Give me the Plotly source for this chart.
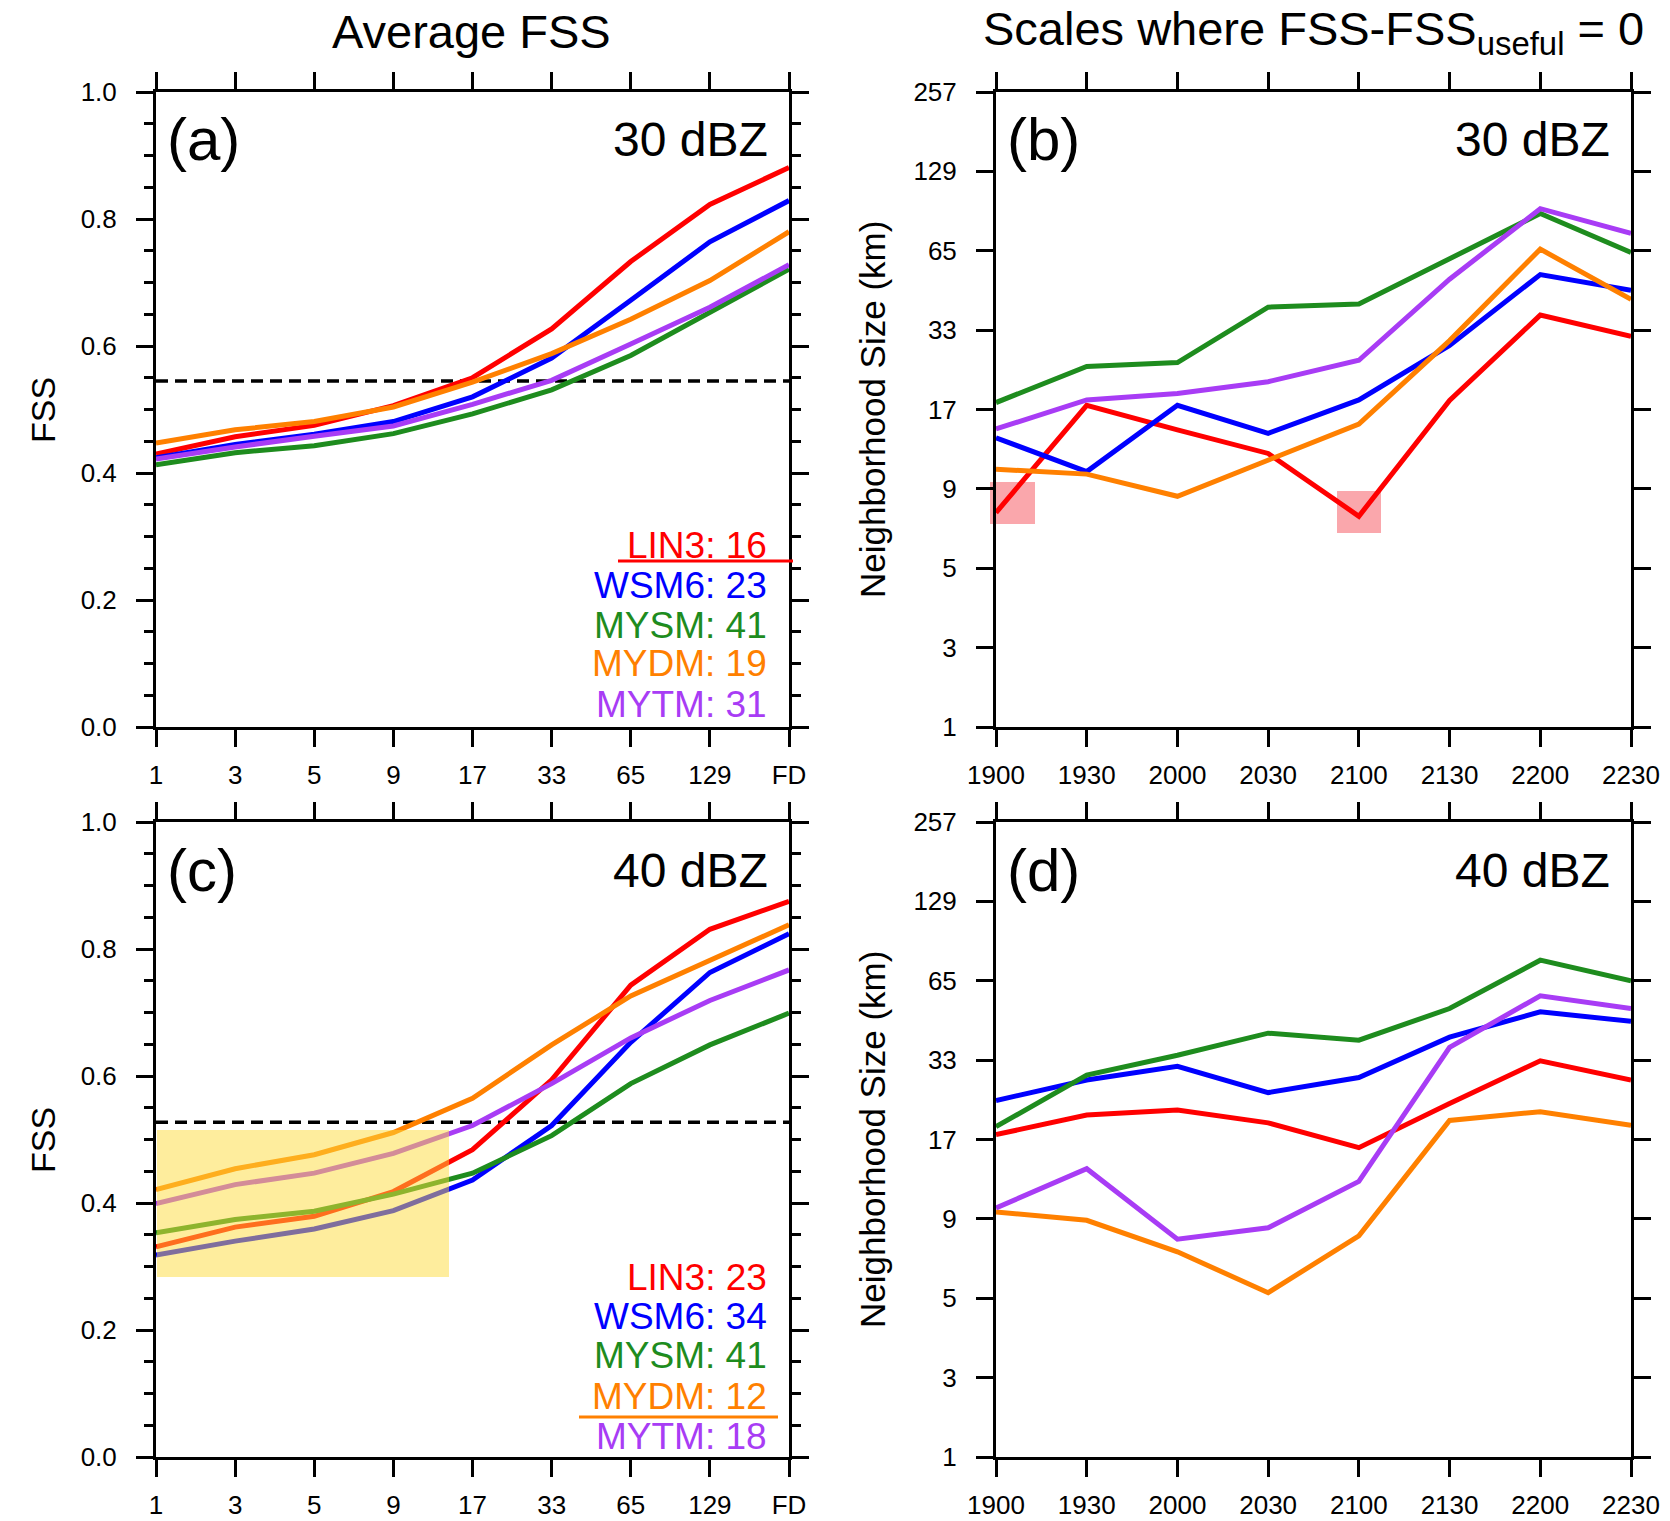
import plotly.graph_objects as go

W, H = 1670, 1521

# ---------------- data ----------------
scales = ["1", "3", "5", "9", "17", "33", "65", "129", "FD"]
times = ["1900", "1930", "2000", "2030", "2100", "2130", "2200", "2230"]
size_tick_labels = ["1", "3", "5", "9", "17", "33", "65", "129", "257"]
size_tick_vals = [1, 2, 4, 8, 16, 32, 64, 128, 256]   # (size - 1) positions

schemes = ["LIN3", "WSM6", "MYSM", "MYDM", "MYTM"]
scheme_colors = ["#FF0000", "#0000FF", "#1E8C1E", "#FF8000", "#A83CF5"]

# (a) average FSS, 30 dBZ
fss30_lin3 = [0.430, 0.457, 0.475, 0.506, 0.550, 0.627, 0.733, 0.823, 0.881]
fss30_wsm6 = [0.424, 0.445, 0.461, 0.481, 0.520, 0.581, 0.672, 0.764, 0.829]
fss30_mysm = [0.413, 0.432, 0.443, 0.462, 0.493, 0.531, 0.585, 0.653, 0.721]
fss30_mydm = [0.447, 0.468, 0.481, 0.504, 0.543, 0.588, 0.642, 0.703, 0.780]
fss30_mytm = [0.422, 0.441, 0.458, 0.474, 0.508, 0.546, 0.603, 0.661, 0.728]
fss30_useful = 0.545
legend30 = [16, 23, 41, 19, 31]

# (c) average FSS, 40 dBZ
fss40_lin3 = [0.331, 0.362, 0.379, 0.418, 0.484, 0.594, 0.743, 0.831, 0.875]
fss40_wsm6 = [0.318, 0.340, 0.359, 0.388, 0.436, 0.522, 0.653, 0.763, 0.824]
fss40_mysm = [0.353, 0.374, 0.387, 0.414, 0.447, 0.506, 0.588, 0.649, 0.699]
fss40_mydm = [0.421, 0.454, 0.476, 0.511, 0.565, 0.649, 0.726, 0.782, 0.838]
fss40_mytm = [0.399, 0.429, 0.447, 0.478, 0.522, 0.588, 0.660, 0.719, 0.767]
fss40_useful = 0.527
legend40 = [23, 34, 41, 12, 18]

# (b) neighborhood size (km) where FSS = FSS_useful, 30 dBZ
size30_lin3 = [7.5, 17.6, 14.4, 11.9, 7.3, 18.3, 37.5, 31.3]
size30_wsm6 = [13.5, 10.3, 17.6, 14.0, 18.4, 29.0, 53.0, 46.3]
size30_mysm = [18.0, 24.3, 25.1, 40.1, 41.2, 60.7, 89.6, 64.1]
size30_mydm = [10.5, 10.1, 8.5, 11.3, 15.1, 30.2, 65.9, 42.9]
size30_mytm = [14.5, 18.4, 19.4, 21.4, 25.6, 50.9, 93.4, 75.5]

# (d) neighborhood size (km) where FSS = FSS_useful, 40 dBZ
size40_lin3 = [17.7, 20.8, 21.7, 19.5, 15.9, 22.9, 32.8, 27.9]
size40_wsm6 = [23.5, 27.9, 31.3, 25.1, 28.5, 40.1, 49.8, 45.9]
size40_mysm = [18.9, 29.1, 34.4, 41.5, 39.1, 51.2, 77.6, 65.0]
size40_mydm = [9.5, 8.9, 7.0, 5.2, 7.9, 19.9, 21.4, 19.1]
size40_mytm = [9.8, 13.4, 7.7, 8.4, 12.1, 36.8, 57.1, 51.2]

# ---------------- layout helpers ----------------
FONT = "Liberation Sans"


def px(x):
    return x / W


def py(y):
    return 1 - y / H


panels = {
    "a": dict(x0=156, x1=789, y0=92, y1=727),
    "b": dict(x0=996, x1=1631, y0=92, y1=727),
    "c": dict(x0=156, x1=789, y0=822, y1=1457),
    "d": dict(x0=996, x1=1631, y0=822, y1=1457),
}

fig = go.Figure()

axis_common = dict(
    showline=True, linecolor="black", linewidth=3, mirror="ticks",
    ticks="outside", ticklen=17, tickwidth=3, tickcolor="black",
    showgrid=False, zeroline=False, automargin=False,
    tickfont=dict(family=FONT, size=26, color="black"),
    fixedrange=True,
)

ax_ids = {"a": ("x", "y"), "b": ("x2", "y2"), "c": ("x3", "y3"), "d": ("x4", "y4")}
ax_lay = {"a": ("xaxis", "yaxis"), "b": ("xaxis2", "yaxis2"),
          "c": ("xaxis3", "yaxis3"), "d": ("xaxis4", "yaxis4")}

for key, p in panels.items():
    xa, ya = ax_lay[key]
    xid, yid = ax_ids[key]
    xdom = [px(p["x0"]), px(p["x1"])]
    ydom = [py(p["y1"]), py(p["y0"])]
    if key in ("a", "c"):
        xcfg = dict(axis_common, domain=xdom, anchor=yid, type="category",
                    categoryorder="array", categoryarray=scales,
                    range=[0, len(scales) - 1], ticklabelstandoff=6)
        ycfg = dict(axis_common, domain=ydom, anchor=xid, range=[0, 1],
                    tick0=0, dtick=0.2, tickformat=".1f", ticklabelstandoff=14,
                    minor=dict(dtick=0.05, ticklen=9, tickwidth=2.5,
                               tickcolor="black", ticks="outside"))
    else:
        xcfg = dict(axis_common, domain=xdom, anchor=yid, type="category",
                    categoryorder="array", categoryarray=times,
                    range=[0, len(times) - 1], ticklabelstandoff=6)
        ycfg = dict(axis_common, domain=ydom, anchor=xid, type="log",
                    range=[0, 2.40824], tickmode="array",
                    tickvals=size_tick_vals, ticktext=size_tick_labels,
                    ticklabelstandoff=14)
    fig.update_layout(**{xa: xcfg, ya: ycfg})

# ---------------- traces ----------------
LW = 5
dash_style = dict(color="black", width=3.5, dash="12px,7px")

fss_sets = {
    "a": ([fss30_lin3, fss30_wsm6, fss30_mysm, fss30_mydm, fss30_mytm], fss30_useful),
    "c": ([fss40_lin3, fss40_wsm6, fss40_mysm, fss40_mydm, fss40_mytm], fss40_useful),
}
for key, (series, useful) in fss_sets.items():
    xid, yid = ax_ids[key]
    fig.add_trace(go.Scatter(x=[scales[0], scales[-1]], y=[useful, useful],
                             mode="lines", line=dash_style, xaxis=xid, yaxis=yid,
                             showlegend=False, hoverinfo="skip"))
    for name, col, vals in zip(schemes, scheme_colors, series):
        fig.add_trace(go.Scatter(x=scales, y=vals, mode="lines", name=name,
                                 line=dict(color=col, width=LW),
                                 xaxis=xid, yaxis=yid, showlegend=False))

size_sets = {
    "b": [size30_lin3, size30_wsm6, size30_mysm, size30_mydm, size30_mytm],
    "d": [size40_lin3, size40_wsm6, size40_mysm, size40_mydm, size40_mytm],
}
for key, series in size_sets.items():
    xid, yid = ax_ids[key]
    for name, col, vals in zip(schemes, scheme_colors, series):
        fig.add_trace(go.Scatter(x=times, y=[v - 1 for v in vals], mode="lines",
                                 name=name, line=dict(color=col, width=LW),
                                 xaxis=xid, yaxis=yid, showlegend=False,
                                 customdata=vals,
                                 hovertemplate="%{customdata} km<extra>" + name + "</extra>"))

# ---------------- annotations ----------------
ann = []


def text(x, y, s, size, color="black", xanchor="center", yanchor="middle", angle=0):
    ann.append(dict(x=px(x), y=py(y), xref="paper", yref="paper", text=s,
                    showarrow=False, xanchor=xanchor, yanchor=yanchor,
                    textangle=angle,
                    font=dict(family=FONT, size=size, color=color)))


text(472, 32, "Average FSS", 47)
text(1313, 32, "Scales where FSS-FSS<sub>useful</sub> = 0", 47)

text(43, 410, "FSS", 34, angle=-90)
text(43, 1140, "FSS", 34, angle=-90)
text(872, 410, "Neighborhood Size (km)", 35, angle=-90)
text(872, 1140, "Neighborhood Size (km)", 35, angle=-90)

labels = {"a": "(a)", "b": "(b)", "c": "(c)", "d": "(d)"}
thresholds = {"a": "30 dBZ", "b": "30 dBZ", "c": "40 dBZ", "d": "40 dBZ"}
for key, p in panels.items():
    text(p["x0"] + 9, p["y0"] + 48, labels[key], 60, xanchor="left")
    text(p["x1"] - 19, p["y0"] + 48, thresholds[key], 48, xanchor="right")

leg_a_y = [545, 585, 625, 664, 705]
leg_c_y = [1277, 1316, 1355, 1396, 1436]
for name, col, n, yy in zip(schemes, scheme_colors, legend30, leg_a_y):
    text(769, yy, f"{name}: {n}", 37, color=col, xanchor="right")
for name, col, n, yy in zip(schemes, scheme_colors, legend40, leg_c_y):
    text(769, yy, f"{name}: {n}", 37, color=col, xanchor="right")

# ---------------- shapes ----------------
shapes = [
    # underline of best scheme
    dict(type="line", xref="paper", yref="paper", x0=px(618), x1=px(793),
         y0=py(561), y1=py(561), line=dict(color="#FF0000", width=3)),
    dict(type="line", xref="paper", yref="paper", x0=px(579), x1=px(778),
         y0=py(1417), y1=py(1417), line=dict(color="#FF8000", width=3)),
    # highlighted minima in (b)
    dict(type="rect", xref="paper", yref="paper", x0=px(990), x1=px(1035),
         y0=py(524), y1=py(482), fillcolor="rgba(245,80,90,0.5)",
         line=dict(width=0), layer="below"),
    dict(type="rect", xref="paper", yref="paper", x0=px(1337), x1=px(1381),
         y0=py(533), y1=py(491), fillcolor="rgba(245,80,90,0.5)",
         line=dict(width=0), layer="below"),
    # yellow highlight in (c)
    dict(type="rect", xref="paper", yref="paper", x0=px(157), x1=px(449),
         y0=py(1277), y1=py(1130), fillcolor="rgba(253,220,60,0.5)",
         line=dict(width=0), layer="above"),
]

fig.update_layout(
    template="none",
    width=W, height=H, autosize=False,
    margin=dict(l=0, r=0, t=0, b=0, pad=0),
    paper_bgcolor="white", plot_bgcolor="white",
    showlegend=False,
    annotations=ann, shapes=shapes,
    font=dict(family=FONT, color="black"),
)

fig.write_html("out.html")
